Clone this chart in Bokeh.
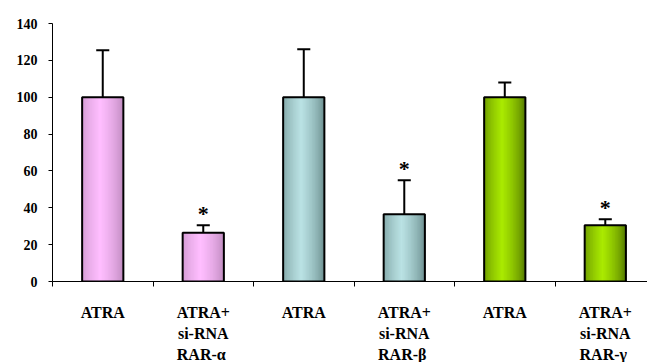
from bokeh.plotting import figure
from bokeh.models import Range1d, FixedTicker
from bokeh.core.properties import value
from bokeh.embed import file_html
from bokeh.resources import INLINE

# ---- data ----
categories = ["ATRA", "ATRA+\nsi-RNA\n RAR-\u03b1", "ATRA", "ATRA+\nsi-RNA\n RAR-\u03b2",
              "ATRA", "ATRA+\nsi-RNA\n RAR-\u03b3"]
values = [100, 26.5, 100, 36.5, 100, 30.5]
errors = [25.5, 4.0, 26.0, 18.5, 8.0, 3.3]
significant = [False, True, False, True, False, True]
y_ticks = [0, 20, 40, 60, 80, 100, 120, 140]

# bar colours: (edge dark, centre light)
group_colors = [("#b07fb0", "#ffbeff"), ("#b07fb0", "#ffbeff"),
                ("#587a7a", "#bae2e4"), ("#587a7a", "#bae2e4"),
                ("#3f5e00", "#aaea00"), ("#3f5e00", "#aaea00")]

FONT = "serif"
BAR_W = 0.41
N_STRIPES = 28


def hex2rgb(h):
    h = h.lstrip("#")
    return tuple(int(h[i:i + 2], 16) for i in (0, 2, 4))


def lerp(c1, c2, f):
    a, b = hex2rgb(c1), hex2rgb(c2)
    return "#%02x%02x%02x" % tuple(int(round(a[i] + (b[i] - a[i]) * f)) for i in range(3))


p = figure(frame_width=595, frame_height=258, output_backend="svg", toolbar_location=None,
           x_range=Range1d(0, 5.92), y_range=Range1d(0, 140),
           min_border_left=52, min_border_right=0, min_border_top=23, min_border_bottom=80)
p.outline_line_color = None
p.xgrid.visible = False
p.ygrid.visible = False
p.background_fill_color = "white"
p.border_fill_color = "white"

centers = [i + 0.5 for i in range(len(categories))]

# gradient bars made of thin stripes
sx, sw, stop, scol = [], [], [], []
for c, v, (dark, light) in zip(centers, values, group_colors):
    left = c - BAR_W / 2
    w = BAR_W / N_STRIPES
    for k in range(N_STRIPES):
        u = (k + 0.5) / N_STRIPES
        f = max(0.0, 1 - abs(u - 0.45) / 0.58) ** 0.55
        sx.append(left + (k + 0.5) * w)
        sw.append(w * 1.8)
        stop.append(v)
        scol.append(lerp(dark, light, f))
p.vbar(x=sx, width=sw, top=stop, bottom=0, fill_color=scol, line_color=None)

# outlines
p.vbar(x=centers, width=BAR_W, top=values, bottom=0, fill_color=None,
       line_color="black", line_width=2)

# error bars (upper only)
tops = [v + e for v, e in zip(values, errors)]
p.segment(x0=centers, y0=values, x1=centers, y1=tops, line_color="black", line_width=2)
cap = 0.065
p.segment(x0=[c - cap for c in centers], y0=tops, x1=[c + cap for c in centers], y1=tops,
          line_color="black", line_width=2)

# significance stars
star_x = [c for c, s in zip(centers, significant) if s]
star_y = [t for t, s in zip(tops, significant) if s]
p.text(x=star_x, y=star_y, text=["*"] * len(star_x), text_align="center",
       text_baseline="bottom", y_offset=1, text_font=value(FONT),
       text_font_style="bold", text_font_size="22px", text_color="black")

# axes
p.yaxis.ticker = FixedTicker(ticks=y_ticks)
p.yaxis.minor_tick_line_color = None
p.yaxis.major_tick_out = 4
p.yaxis.major_tick_in = 0
p.yaxis.axis_line_color = "black"
p.yaxis.axis_line_width = 1
p.yaxis.major_label_text_font = FONT
p.yaxis.major_label_text_font_style = "bold"
p.yaxis.major_label_text_font_size = "14px"
p.yaxis.major_label_text_color = "black"
p.yaxis.major_label_standoff = 11

p.xaxis.ticker = FixedTicker(ticks=centers, minor_ticks=[0, 1, 2, 3, 4, 5])
p.xaxis.major_label_overrides = {c: lab for c, lab in zip(centers, categories)}
p.xaxis.major_tick_line_color = None
p.xaxis.major_tick_out = 0
p.xaxis.major_tick_in = 0
p.xaxis.minor_tick_out = 5
p.xaxis.minor_tick_in = 0
p.xaxis.minor_tick_line_color = "black"
p.xaxis.axis_line_color = "black"
p.xaxis.axis_line_width = 1
p.xaxis.major_label_text_font = FONT
p.xaxis.major_label_text_font_style = "bold"
p.xaxis.major_label_text_font_size = "16px"
p.xaxis.major_label_text_color = "black"
p.xaxis.major_label_standoff = 17
p.xaxis.major_label_text_line_height = 1.25

open("out.html", "w").write(file_html(p, INLINE))
